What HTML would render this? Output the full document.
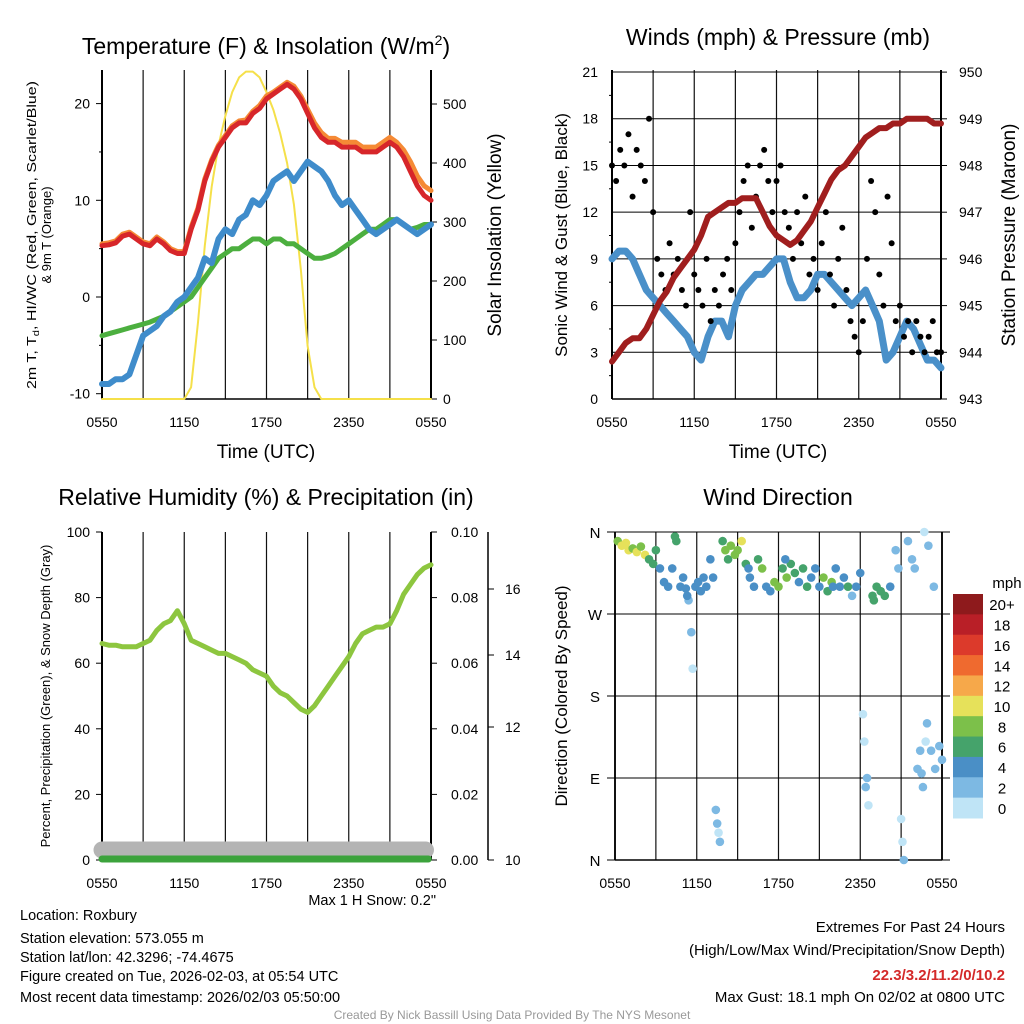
<!DOCTYPE html>
<html><head><meta charset="utf-8"><style>
html,body{margin:0;padding:0;background:#fff}
svg{display:block}
text{font-family:"Liberation Sans",sans-serif;fill:#000}
</style></head><body>
<svg id="s" width="1024" height="1024" viewBox="0 0 1024 1024" xmlns="http://www.w3.org/2000/svg">
<rect width="1024" height="1024" fill="#fff"/>
<text x="266" y="54" font-size="23" text-anchor="middle">Temperature (F) &amp; Insolation (W/m<tspan font-size="14" dy="-9">2</tspan><tspan dy="9">)</tspan></text>
<text x="778" y="45" font-size="23" text-anchor="middle">Winds (mph) &amp; Pressure (mb)</text>
<text x="266" y="505" font-size="23" text-anchor="middle">Relative Humidity (%) &amp; Precipitation (in)</text>
<text x="778" y="505" font-size="23" text-anchor="middle">Wind Direction</text>
<text x="266" y="458" font-size="19" text-anchor="middle">Time (UTC)</text>
<text x="778" y="458" font-size="19" text-anchor="middle">Time (UTC)</text>
<g transform="translate(36,235) rotate(-90)">
<text x="0" y="0" font-size="13" text-anchor="middle" textLength="308" lengthAdjust="spacingAndGlyphs">2m T, T<tspan font-size="9" dy="3">d</tspan><tspan dy="-3">, HI/WC (Red, Green, Scarlet/Blue)</tspan></text>
<text x="0" y="15" font-size="13" text-anchor="middle">&amp; 9m T (Orange)</text></g>
<text transform="translate(501,235) rotate(-90)" font-size="19" text-anchor="middle">Solar Insolation (Yellow)</text>
<text transform="translate(567,235) rotate(-90)" font-size="17" text-anchor="middle">Sonic Wind &amp; Gust (Blue, Black)</text>
<text transform="translate(1015,235) rotate(-90)" font-size="19" text-anchor="middle">Station Pressure (Maroon)</text>
<text transform="translate(50,696) rotate(-90)" font-size="13" text-anchor="middle">Percent, Precipitation (Green), &amp; Snow Depth (Gray)</text>
<text transform="translate(567,696) rotate(-90)" font-size="17" text-anchor="middle">Direction (Colored By Speed)</text>
<g font-size="14.5">
<text x="20" y="920">Location: Roxbury</text>
<text x="20" y="943">Station elevation: 573.055 m</text>
<text x="20" y="962">Station lat/lon: 42.3296; -74.4675</text>
<text x="20" y="981">Figure created on Tue, 2026-02-03, at 05:54 UTC</text>
<text x="20" y="1002">Most recent data timestamp: 2026/02/03 05:50:00</text>
</g>
<text x="436" y="905" font-size="14.5" text-anchor="end" fill="#333">Max 1 H Snow: 0.2"</text>
<g font-size="15" text-anchor="end">
<text x="1005" y="932">Extremes For Past 24 Hours</text>
<text x="1005" y="955">(High/Low/Max Wind/Precipitation/Snow Depth)</text>
<text x="1005" y="980" font-weight="bold" style="fill:#d42a2a">22.3/3.2/11.2/0/10.2</text>
<text x="1005" y="1002">Max Gust: 18.1 mph On 02/02 at 0800 UTC</text>
</g>
<text x="512" y="1019" font-size="12" text-anchor="middle" style="fill:#999">Created By Nick Bassill Using Data Provided By The NYS Mesonet</text>
<g id="plots"></g>
</svg>
<script>
const xTickLabels = ["0550","1150","1750","2350","0550"];
const tempRed = [5.3,5.4,5.6,6.3,6.5,6,5.5,5.3,6,5.5,4.8,4.5,4.5,7,9,12,14,15.5,16.5,17.5,18,18,19,19.5,20.5,21,21.5,22,21.5,20.5,19,17.5,16.5,16,16,15.5,15.5,15.5,15,15,15,15.5,16,15.5,14.5,13,11.5,10.5,10];
const tempOrange = [5.5,5.6,5.8,6.5,6.7,6.2,5.7,5.5,6.2,5.7,5,4.7,4.7,7.2,9.2,12.2,14.2,15.7,16.7,17.7,18.2,18.3,19.2,19.8,20.8,21.2,21.7,22.2,21.8,20.8,19.4,18,17,16.4,16.4,16,16,16,15.5,15.5,15.5,16,16.5,16,15.2,14,12.5,11.5,11];
const dewBlue = [-9,-9,-8.5,-8.5,-8,-6,-4,-3.5,-3,-2,-1.5,-0.5,0,1,2,4,3.5,6,7,6.5,8,8.5,10,9.5,10.5,12,12.5,13,12,13,14,13.5,13,12,10.5,9.5,10,9,8,7,6.5,7,7.5,8,7.5,7,6.5,7,7.5];
const windChill = [-4,-3.8,-3.6,-3.4,-3.2,-3,-2.8,-2.6,-2.3,-2,-1.5,-1,-0.5,0,1,2,3,4,4.5,5,5,5.5,6,6,5.5,6,6,5.5,5.5,5,4.5,4,4,4.2,4.5,5,5.5,6,6.5,7,7,7.5,8,8,7.5,7,7.2,7.5,7.5];
const insolation = [0,0,0,0,0,0,0,0,0,0,0,0,0,20,130,260,360,430,480,520,545,555,555,545,520,490,450,400,330,220,90,20,0,0,0,0,0,0,0,0,0,0,0,0,0,0,0,0,0];
const windSpeed = [9,9.5,9.5,9,8,7,6.5,6,5.5,5,4.5,4,3,2.5,4,5,5,4,6,7,7.5,8,8,8.5,9,9,7.5,6.5,6.5,7,8,8,7.5,7,6.5,6,6.5,7,6,5,2.5,3,4,5,4.5,3.5,2.5,2.5,2];
const pressure = [943.8,944.0,944.2,944.3,944.3,944.5,944.8,945.1,945.3,945.6,945.8,946.0,946.2,946.5,946.9,947.0,947.1,947.2,947.2,947.3,947.3,947.3,947.0,946.7,946.5,946.4,946.3,946.4,946.6,946.8,947.1,947.4,947.7,947.9,948.0,948.2,948.4,948.6,948.7,948.8,948.8,948.9,948.9,949.0,949.0,949.0,949.0,948.9,948.9];
const gusts = [15,14,16,15,17,13,16,15,14,18, 12,9,8,7,10,8,9,7,6,12, 8,7,6,9,5,7,6,8,9,7, 10,12,14,15,11,13,15,16,14,12, 14,15,12,11,9,12,10,13,8,9, 7,10,12,8,6,9,11,7,5,4, 3,5,9,14,12,8,6,13,10,5, 6,4,5,3,5,4,3,4,5,3,3];
const rh = [66,65.5,65.5,65,65,65,66,67,70,72,73,76,72,67,66,65,64,63,63,62,61,60,58,57,56,53,51,50,48,46,45,47,50,53,56,59,62,66,69,70,71,71,72,76,81,84,87,89,90];
const dirTimes = [0.2,0.5,0.8,1.0,1.3,1.6,1.9,2.2,2.5,2.8,3.0,3.3,3.6,3.9,4.2,4.5,4.8,5.0,5.2,5.4,5.6,5.7,5.9,6.1,6.3,6.5,6.7,7.0,7.2,7.4,7.5,7.6,7.7,7.9,8.1,8.3,8.5,8.8,9.0,9.3,9.6,9.9,10.2,10.5,10.8,11.1,11.4,11.7,12.0,12.3,12.6,12.9,13.2,13.5,13.8,14.1,14.4,14.7,15.0,15.3,15.6,15.9,16.2,16.5,16.8,17.1,17.4,17.7,18.0,18.2,18.3,18.4,18.5,18.6,18.9,19.2,19.5,19.8,20.2,20.6,20.8,21.0,21.1,21.2,21.5,21.8,22.0,22.2,22.4,22.5,22.6,22.8,22.9,23.2,23.5,23.8,24.0,22.7,23.0,23.4,4.4,5.3,9.8,12.5,16.0,19.0];
const dirValues = [350,345,348,340,342,338,344,335,330,325,340,320,305,300,320,350,300,310,298,285,250,210,300,305,295,310,300,330,310,55,40,30,20,350,340,330,345,335,340,350,325,310,300,330,320,300,295,305,300,320,310,325,315,305,320,300,310,320,300,310,295,305,320,300,310,300,290,300,315,160,130,80,90,60,290,300,295,290,300,340,320,45,20,0,350,330,320,100,120,95,80,130,150,120,100,125,110,360,345,300,355,290,320,330,300,285];
const dirSpeeds = [8,10,10,10,9,10,8,11,7,6,7,5,4,4,5,7,5,5,4,3,2,1,4,5,4,5,4,5,5,3,3,1,2,7,8,7,9,8,9,10,7,5,5,7,8,5,4,8,9,7,8,6,6,5,6,7,5,4,4,9,6,8,4,5,4,6,3,5,4,1,1,2,2,1,6,7,7,6,5,2,2,1,1,2,3,2,3,2,3,3,2,1,2,3,3,3,3,1,3,3,7,4,5,4,4,6];
const speedColors = ["#bfe4f6","#7db9e3","#4a8fc6","#45a36b","#7cc04a","#e6e15a","#f6a84a","#ef6a2f","#dc3a2b","#b91f27","#8e1a1c"];
const cbLabels = ["20+","18","16","14","12","10","8","6","4","2","0"];

const NS="http://www.w3.org/2000/svg";
const root=document.getElementById('plots');
function mk(tag,attrs,parent){const e=document.createElementNS(NS,tag);for(const k in attrs)e.setAttribute(k,attrs[k]);(parent||root).appendChild(e);return e;}
function txt(x,y,s,size,anchor,parent){const t=mk('text',{x:x,y:y,'font-size':size,'text-anchor':anchor||'middle'},parent);t.textContent=s;return t;}
const hrs = tempRed.map((_,i)=>i*0.5);

function panel(name,x0,x1,y0,y1){
  const g=mk('g',{});
  
  
  const X=h=>x0+(x1-x0)*h/24;
  for(let i=0;i<=8;i++){const x=X(i*3);mk('line',{x1:x,x2:x,y1:y0,y2:y1,stroke:'#111','stroke-width':(i==0||i==8)?2:1.2},g);}
  for(let i=0;i<=4;i++){const l=txt(X(i*6),y1+28,xTickLabels[i],14,'middle',g);
    
    }
  mk('line',{x1:x0,x2:x1,y1:y1,y2:y1,stroke:'#000','stroke-width':1.5},g);
  return {g,X};
}
function poly(g,xs,ys,color,w,name){
  const pts=xs.map((x,i)=>x.toFixed(1)+','+ys[i].toFixed(1)).join(' ');
  const p=mk('polyline',{points:pts,fill:'none',stroke:color,'stroke-width':w,'stroke-linejoin':'round','stroke-linecap':'round'},g);
  
  
  return p;
}

{
  const x0=102,x1=431,y0=70,y1=399;
  const {g,X}=panel('temperature-panel',x0,x1,y0,y1);
  const Y=v=>297-(v*9.67), Y2=v=>399-v*0.59;
  mk('line',{x1:x0,x2:x0,y1:y0,y2:y1,stroke:'#000','stroke-width':2},g);
  mk('line',{x1:x1,x2:x1,y1:y0,y2:y1,stroke:'#000','stroke-width':2},g);
  [-10,0,10,20].forEach(v=>{mk('line',{x1:x0-6,x2:x0,y1:Y(v),y2:Y(v),stroke:'#000'},g);
    const t=txt(x0-12,Y(v)+5,String(v),14,'end',g);
    
    });
  [-5,5,15].forEach(v=>mk('line',{x1:x0-3,x2:x0,y1:Y(v),y2:Y(v),stroke:'#000'},g));
  [0,100,200,300,400,500].forEach(v=>{mk('line',{x1:x1,x2:x1+6,y1:Y2(v),y2:Y2(v),stroke:'#000'},g);
    const t=txt(x1+12,Y2(v)+5,String(v),14,'start',g);
    
    });
  const xs=hrs.map(X);
  poly(g,xs,insolation.map(Y2),'#f5e04a',2,'insolation-line');
  poly(g,xs,windChill.map(Y),'#4caf3f',5,'heat-index-wind-chill-line');
  poly(g,xs,dewBlue.map(Y),'#3f8ccb',6,'dewpoint-line');
  poly(g,xs,tempOrange.map(Y),'#f58a35',5,'temp-9m-line');
  poly(g,xs,tempRed.map(Y),'#d7262a',5,'temp-2m-line');
}
{
  const x0=612,x1=941,y0=70,y1=399;
  const {g,X}=panel('winds-panel',x0,x1,y0,y1);
  const Y=v=>399-v*15.57, Y2=v=>399-(v-943)*46.7;
  for(let v=0;v<=21;v+=3){mk('line',{x1:x0,x2:x1,y1:Y(v),y2:Y(v),stroke:'#000','stroke-width':1},g);
    const t=txt(x0-14,Y(v)+5,String(v),14,'end',g);
    
    }
  for(let v=1.5;v<21;v+=3)mk('line',{x1:x0-3,x2:x0,y1:Y(v),y2:Y(v),stroke:'#000'},g);
  mk('line',{x1:x0,x2:x0,y1:y0,y2:y1,stroke:'#000','stroke-width':2},g);
  mk('line',{x1:x1,x2:x1,y1:y0,y2:y1,stroke:'#000','stroke-width':2},g);
  for(let v=943;v<=950;v++){mk('line',{x1:x1,x2:x1+6,y1:Y2(v),y2:Y2(v),stroke:'#000'},g);
    const t=txt(x1+18,Y2(v)+5,String(v),14,'start',g);
    
    }
  const xs=hrs.map(X);
  poly(g,xs,windSpeed.map(Y),'#4a90c9',7,'wind-speed-line');
  gusts.forEach((v,i)=>{const c=mk('circle',{cx:X(i*0.3),cy:Y(v),r:3,fill:'#000'},g);
    
    });
  poly(g,xs,pressure.map(Y2),'#a01e1e',6,'pressure-line');
}
{
  const x0=102,x1=431,y0=532,y1=860;
  const {g,X}=panel('humidity-panel',x0,x1,y0,y1);
  const Y=v=>860-v*3.28;
  mk('line',{x1:x0,x2:x0,y1:y0,y2:y1,stroke:'#000','stroke-width':2},g);
  mk('line',{x1:x1,x2:x1,y1:y0,y2:y1,stroke:'#000','stroke-width':2},g);
  for(let v=0;v<=100;v+=20){mk('line',{x1:x0-6,x2:x0,y1:Y(v),y2:Y(v),stroke:'#000'},g);
    const t=txt(x0-12,Y(v)+5,String(v),14,'end',g);
    
    
    mk('line',{x1:x1,x2:x1+6,y1:Y(v),y2:Y(v),stroke:'#000'},g);
    const t2=txt(x1+20,Y(v)+5,(v/1000).toFixed(2),14,'start',g);
    
    }
  mk('line',{x1:488,x2:488,y1:532,y2:860,stroke:'#000','stroke-width':1.5},g);
  [[10,860],[12,727],[14,655],[16,589]].forEach(([v,y])=>{mk('line',{x1:488,x2:494,y1:y,y2:y,stroke:'#000'},g);
    const t=txt(505,y+5,String(v),14,'start',g);
    
    });
  const xs=hrs.map(X);
  poly(g,[X(0),X(23.6)],[850,850],'#b4b4b4',17,'snow-depth-band');
  poly(g,[X(0),X(23.8)],[859,859],'#3ca33c',7,'precipitation-line');
  poly(g,xs,rh.map(Y),'#8dc63f',5,'relative-humidity-line');
}
{
  const x0=615,x1=942,y0=532,y1=860;
  const {g,X}=panel('wind-direction-panel',x0,x1,y0,y1);
  const Y=d=>860-d*(328/360);
  ['N','E','S','W','N'].forEach((l,i)=>{const y=Y(i*90);
    mk('line',{x1:x0-8,x2:x1+8,y1:y,y2:y,stroke:'#000','stroke-width':1},g);
    const t=txt(x0-20,y+6,l,15,'middle',g);
    
    });
  dirTimes.forEach((h,i)=>{const b=Math.min(5,Math.floor(dirSpeeds[i]/2));
    const c=mk('circle',{cx:X(h),cy:Y(dirValues[i]),r:4.3,fill:speedColors[b]},g);
    
    });
  const cb=mk('g',{});
  
  
  const h=(818-594)/11;
  for(let i=0;i<11;i++){mk('rect',{x:953,y:594+i*h,width:30,height:h+0.5,fill:speedColors[10-i]},cb);
    txt(1002,594+i*h+h/2+6,cbLabels[i],15,'middle',cb);}
  txt(1007,588,'mph',15,'middle',cb);
}
</script>
</body></html>
